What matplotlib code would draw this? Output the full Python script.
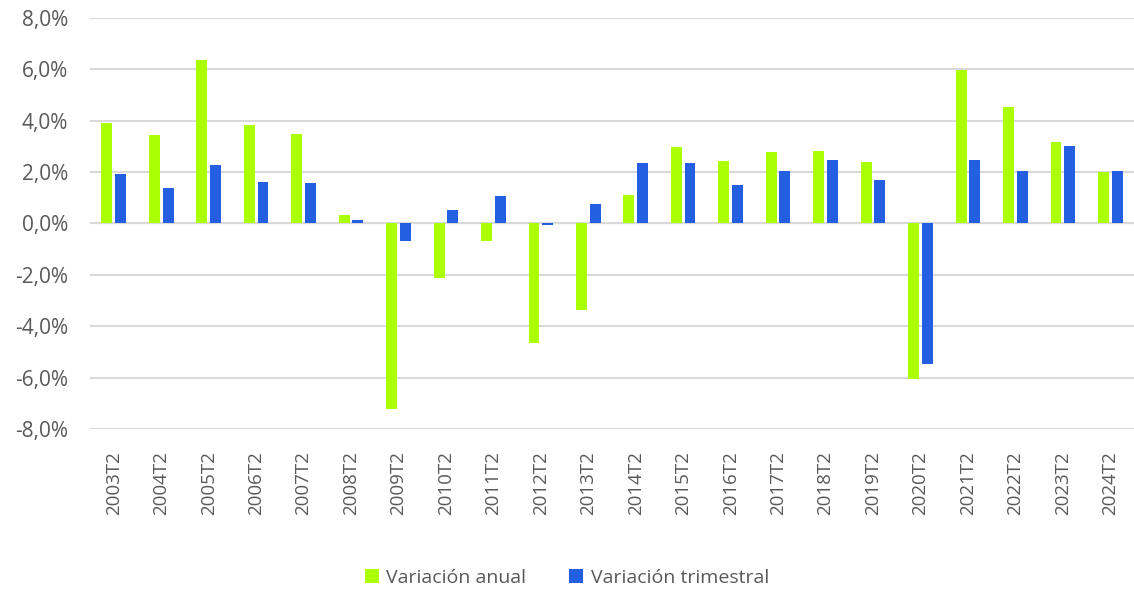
import numpy as np
import matplotlib
matplotlib.use('Agg')
import matplotlib.pyplot as plt
from matplotlib.ticker import FuncFormatter

periods = ['2003T2', '2004T2', '2005T2', '2006T2', '2007T2', '2008T2', '2009T2', '2010T2',
           '2011T2', '2012T2', '2013T2', '2014T2', '2015T2', '2016T2', '2017T2', '2018T2',
           '2019T2', '2020T2', '2021T2', '2022T2', '2023T2', '2024T2']
var_anual = [3.90, 3.42, 6.34, 3.82, 3.47, 0.31, -7.23, -2.12, -0.69, -4.65, -3.38,
             1.10, 2.96, 2.43, 2.78, 2.81, 2.38, -6.06, 5.96, 4.51, 3.16, 1.99]
var_trimestral = [1.94, 1.39, 2.26, 1.60, 1.56, 0.12, -0.69, 0.53, 1.05, -0.05, 0.77,
                  2.36, 2.36, 1.49, 2.03, 2.48, 1.70, -5.47, 2.45, 2.03, 3.01, 2.04]
y_ticks = [-8, -6, -4, -2, 0, 2, 4, 6, 8]

GREEN = '#aaff00'
BLUE = '#245fe1'
TXT = '#595959'

plt.rcParams['font.family'] = ['Open Sans', 'DejaVu Sans']

fig = plt.figure(figsize=(11.34, 5.91), dpi=100)
ax = fig.add_axes([0.0794, 0.274, 0.9206, 0.696])

x = np.arange(len(periods))
w = 0.23
ax.bar(x - 0.144, var_anual, width=w, color=GREEN, zorder=3, label='Variación anual')
ax.bar(x + 0.144, var_trimestral, width=w, color=BLUE, zorder=3, label='Variación trimestral')

ax.set_xlim(-0.5, len(periods) - 0.5)
ax.set_ylim(-8, 8)
ax.set_yticks(y_ticks)
ax.yaxis.set_major_formatter(FuncFormatter(lambda v, p: f'{v:.1f}%'.replace('.', ',')))
ax.grid(axis='y', color='#d9d9d9', linewidth=1.5, zorder=0)
ax.axhline(0, color='#d9d9d9', linewidth=1.5, zorder=1)

ax.set_xticks(x)
ax.set_xticklabels(periods, rotation=90, fontsize=13.5, color=TXT)
ax.tick_params(axis='x', length=0, pad=16)
ax.tick_params(axis='y', length=0, pad=16, labelsize=15, labelcolor=TXT)
for s in ax.spines.values():
    s.set_visible(False)

fig.legend(loc='center', bbox_to_anchor=(0.5, 0.022), ncol=2, frameon=False,
           fontsize=14, labelcolor=TXT, handlelength=0.7, handleheight=0.7,
           handletextpad=0.4, columnspacing=2.2)

plt.savefig('out.png', dpi=100)
